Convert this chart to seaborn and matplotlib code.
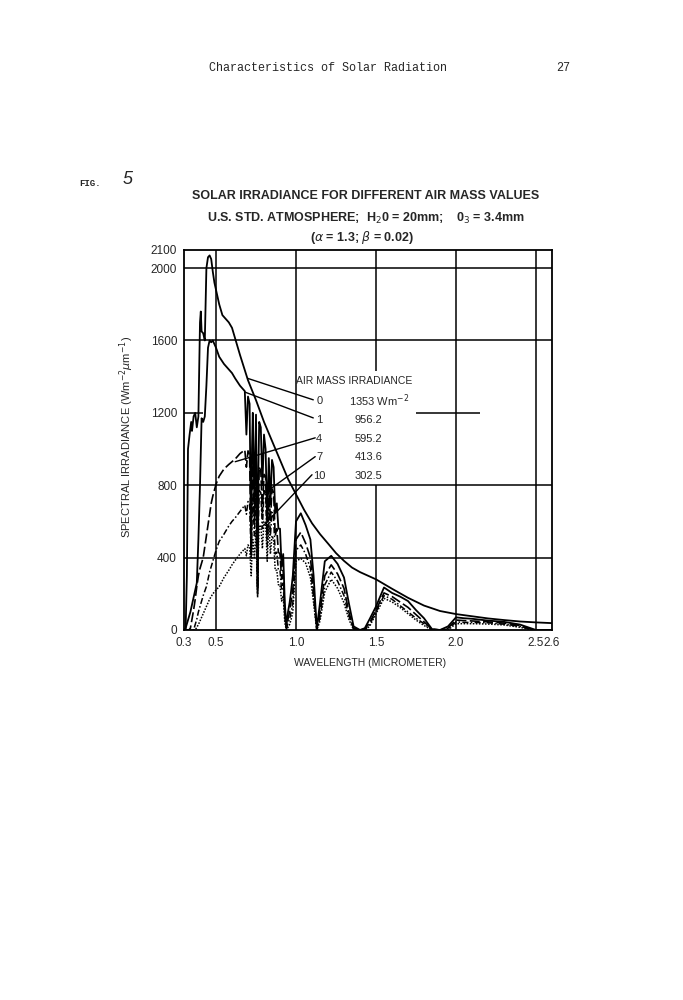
import numpy as np
import pandas as pd
import matplotlib
matplotlib.use("Agg")
import matplotlib.pyplot as plt
import seaborn as sns

# Spektrumdata (W m-2 um-1)
wl_am0 = [0.310, 0.318, 0.325, 0.335, 0.345, 0.350, 0.360, 0.370, 0.380, 0.390,
          0.400, 0.405, 0.410, 0.420, 0.430, 0.440, 0.450, 0.460, 0.470, 0.480,
          0.490, 0.500, 0.520, 0.540, 0.560, 0.580, 0.600, 0.620, 0.650, 0.700,
          0.750, 0.800, 0.850, 0.900, 0.950, 1.000, 1.050, 1.100, 1.150, 1.200,
          1.250, 1.300, 1.350, 1.400, 1.500, 1.600, 1.700, 1.800, 1.900, 2.000,
          2.100, 2.200, 2.300, 2.400, 2.500, 2.600]
irr_am0 = [0, 300, 1000, 1080, 1150, 1100, 1180, 1200, 1120, 1180,
           1700, 1760, 1650, 1640, 1600, 2000, 2060, 2070, 2050, 1980,
           1920, 1880, 1800, 1740, 1720, 1700, 1670, 1610, 1520, 1380,
           1270, 1150, 1045, 940, 835, 750, 665, 590, 530, 478,
           425, 382, 345, 320, 280, 228, 178, 135, 105, 88,
           76, 64, 55, 47, 42, 38]

wl = [0.30, 0.31, 0.32, 0.33, 0.34, 0.35, 0.36, 0.37, 0.38, 0.39,
      0.40, 0.41, 0.42, 0.43, 0.44, 0.45, 0.46, 0.47, 0.48, 0.50,
      0.52, 0.55, 0.58, 0.60, 0.62, 0.65,
      0.68, 0.69, 0.70, 0.71, 0.72, 0.725, 0.73, 0.74, 0.75, 0.76, 0.765,
      0.77, 0.78, 0.79, 0.80, 0.81, 0.82, 0.83, 0.84, 0.85, 0.86, 0.87,
      0.88, 0.89, 0.90, 0.91, 0.92, 0.93, 0.94, 0.95, 0.96, 0.97, 0.98,
      1.00, 1.03, 1.06, 1.09, 1.11, 1.13, 1.15, 1.18, 1.22, 1.26,
      1.30, 1.33, 1.36, 1.40, 1.43, 1.46, 1.50, 1.55, 1.60, 1.65,
      1.70, 1.75, 1.80, 1.85, 1.90, 1.95, 2.00, 2.05, 2.10, 2.20,
      2.30, 2.40, 2.45, 2.50, 2.55, 2.60]
irr_am1 = [0, 10, 40, 70, 100, 140, 180, 220, 260, 500,
           800, 1170, 1150, 1180, 1350, 1560, 1600, 1590, 1600, 1560,
           1510, 1470, 1440, 1420, 1390, 1350,
           1320, 1080, 1290, 1250, 420, 1000, 1200, 700, 1190, 200, 900,
           1150, 1120, 800, 1080, 1000, 600, 950, 700, 940, 900, 650,
           700, 560, 560, 350, 420, 150, 20, 100, 150, 220, 300,
           600, 645, 580, 500, 300, 10, 150, 380, 410, 365,
           290, 150, 20, 0, 10, 60, 130, 235, 205, 185,
           160, 110, 65, 5, 0, 20, 70, 65, 62, 52,
           45, 30, 15, 0, 0, 0]
irr_am4 = [0, 0, 0, 0, 10, 60, 110, 170, 240, 300,
           340, 370, 400, 460, 520, 580, 640, 700, 740, 805,
           850, 890, 915, 930, 945, 975,
           995, 900, 990, 970, 420, 800, 950, 600, 920, 230, 700,
           900, 880, 650, 860, 850, 520, 820, 600, 780, 760, 520,
           560, 430, 420, 280, 330, 100, 10, 60, 100, 160, 220,
           500, 540, 480, 400, 220, 0, 100, 300, 360, 310,
           230, 100, 10, 0, 5, 40, 110, 205, 185, 155,
           125, 85, 45, 5, 0, 10, 55, 52, 50, 45,
           38, 25, 10, 0, 0, 0]
irr_am7 = [0, 0, 0, 0, 0, 0, 0, 30, 60, 100,
           130, 160, 190, 215, 240, 280, 320, 350, 380, 440,
           490, 530, 575, 600, 620, 655,
           690, 640, 710, 700, 400, 620, 730, 520, 760, 220, 600,
           770, 760, 560, 770, 760, 460, 720, 520, 650, 620, 420,
           430, 330, 330, 220, 260, 70, 5, 40, 60, 100, 150,
           440, 470, 420, 340, 180, 0, 70, 250, 320, 270,
           190, 80, 5, 0, 0, 30, 100, 190, 170, 135,
           100, 65, 35, 0, 0, 5, 45, 42, 42, 40,
           32, 20, 8, 0, 0, 0]
irr_am10 = [0, 0, 0, 0, 0, 0, 0, 0, 15, 30,
            50, 70, 90, 110, 130, 150, 170, 185, 200, 220,
            240, 290, 330, 360, 385, 420,
            450, 410, 470, 460, 300, 430, 500, 400, 550, 180, 450,
            570, 580, 450, 600, 600, 380, 590, 420, 520, 500, 330,
            330, 250, 250, 160, 190, 40, 0, 15, 30, 60, 100,
            380, 395, 370, 290, 150, 0, 50, 210, 280, 230,
            150, 60, 0, 0, 0, 20, 90, 175, 155, 125,
            90, 55, 25, 0, 0, 0, 35, 35, 35, 33,
            28, 15, 5, 0, 0, 0]

air_mass = ["0", "1", "4", "7", "10"]
irradiance_txt = ["1353 Wm$^{-2}$", "956.2", "595.2", "413.6", "302.5"]

x_ticks = [0.3, 0.5, 1.0, 1.5, 2.0, 2.5, 2.6]
x_ticklabels = ["0.3", "0.5", "1.0", "1.5", "2.0", "2.5", "2.6"]
y_ticks = [0, 400, 800, 1200, 1600, 2000, 2100]

sns.set_style("white")
plt.rcParams['font.family'] = ['Liberation Sans', 'DejaVu Sans']
plt.rcParams['mathtext.fontset'] = 'dejavusans'

fig = plt.figure(figsize=(6.83, 10), dpi=100)
ax = fig.add_axes([184 / 683, 0.370, 368 / 683, 0.380])

# Rutnät ritat som i originalet (avbrutet vid förklaringen)
gk = dict(color='black', linewidth=1.1, zorder=1)
for yv in [400, 800, 1600, 2000]:
    ax.hlines(yv, 0.3, 2.6, **gk)
ax.hlines(1200, 0.3, 0.42, **gk)
ax.hlines(1200, 1.75, 2.15, **gk)
for xv in [0.5, 1.0, 2.0, 2.5]:
    ax.vlines(xv, 0, 2100, **gk)
ax.vlines(1.5, 0, 800, **gk)
ax.vlines(1.5, 1430, 2100, **gk)

df0 = pd.DataFrame({'wl': wl_am0, 'irr': irr_am0})
df = pd.DataFrame({'wl': wl, 'am1': irr_am1, 'am4': irr_am4,
                   'am7': irr_am7, 'am10': irr_am10})

sns.lineplot(data=df0, x='wl', y='irr', ax=ax, color='black', linewidth=1.3,
             estimator=None, sort=False, zorder=3)
styles = {'am1': '-', 'am4': (0, (6, 2)), 'am7': (0, (4, 1.5, 1, 1.5)), 'am10': (0, (1, 1))}
widths = {'am1': 1.3, 'am4': 1.2, 'am7': 1.1, 'am10': 1.1}
for col, ls in styles.items():
    sns.lineplot(data=df, x='wl', y=col, ax=ax, color='black', linewidth=widths[col],
                 linestyle=ls, estimator=None, sort=False, zorder=3)

ax.set_xlim(0.3, 2.6)
ax.set_ylim(0, 2100)
ax.set_xticks(x_ticks)
ax.set_xticklabels(x_ticklabels, fontsize=8.5)
ax.set_yticks(y_ticks)
ax.set_yticklabels([str(v) for v in y_ticks], fontsize=8.5)
ax.tick_params(direction='out', length=3, width=1, pad=2)
ax.set_xlabel('')
ax.set_ylabel('')
for sp in ax.spines.values():
    sp.set_linewidth(1.3)
    sp.set_color('black')

# Förklaring med hänvisningslinjer
ax.text(1.0, 1377, 'AIR MASS IRRADIANCE', fontsize=7.5, ha='left', va='center', zorder=5)
label_y = [1267, 1162, 1056, 955, 850]
for lab, txt, yy in zip(air_mass, irradiance_txt, label_y):
    ax.text(1.145, yy, lab, fontsize=8, ha='center', va='center', zorder=5)
    xt = 1.33 if txt.startswith('1353') else 1.365
    ax.text(xt, yy, txt, fontsize=8, ha='left', va='center', zorder=5)

leaders = [((1.108, 1272), (0.70, 1390)),
           ((1.108, 1172), (0.68, 1315)),
           ((1.12, 1062), (0.62, 930)),
           ((1.12, 958), (0.80, 755)),
           ((1.10, 858), (0.80, 580))]
for (xa, ya), (xb, yb) in leaders:
    ax.plot([xa, xb], [ya, yb], color='black', linewidth=1.0, zorder=4)

fig.text(127 / 683, 1 - 437 / 1000, r'SPECTRAL IRRADIANCE (Wm$^{-2}\mu$m$^{-1}$)',
         rotation=90, ha='center', va='center', fontsize=8)
fig.text(370 / 683, 1 - 663 / 1000, 'WAVELENGTH (MICROMETER)',
         ha='center', va='center', fontsize=7.5)

# Titel
tk = dict(ha='center', va='center', fontsize=9, fontweight='bold')
fig.text(366 / 683, 1 - 196 / 1000, 'SOLAR IRRADIANCE FOR DIFFERENT AIR MASS VALUES', **tk)
fig.text(366 / 683, 1 - 218 / 1000, 'U.S. STD. ATMOSPHERE;  H$_2$0 = 20mm;    0$_3$ = 3.4mm', **tk)
fig.text(362 / 683, 1 - 238 / 1000, r'($\alpha$ = 1.3; $\beta$ = 0.02)', **tk)

# Sidhuvud
fig.text(328 / 683, 1 - 68 / 1000, 'Characteristics of Solar Radiation',
         ha='center', va='center', fontsize=8.5, family=['Liberation Mono', 'DejaVu Sans Mono'])
fig.text(563 / 683, 1 - 68 / 1000, '27', ha='center', va='center', fontsize=8.5,
         family=['Liberation Mono', 'DejaVu Sans Mono'])
fig.text(90 / 683, 1 - 183 / 1000, 'FIG.', ha='center', va='center', fontsize=6.5,
         fontweight='bold', family=['Liberation Mono', 'DejaVu Sans Mono'])
fig.text(128 / 683, 1 - 180 / 1000, '5', ha='center', va='center', fontsize=13,
         style='italic')

fig.savefig('out.png', dpi=100, facecolor='white')
